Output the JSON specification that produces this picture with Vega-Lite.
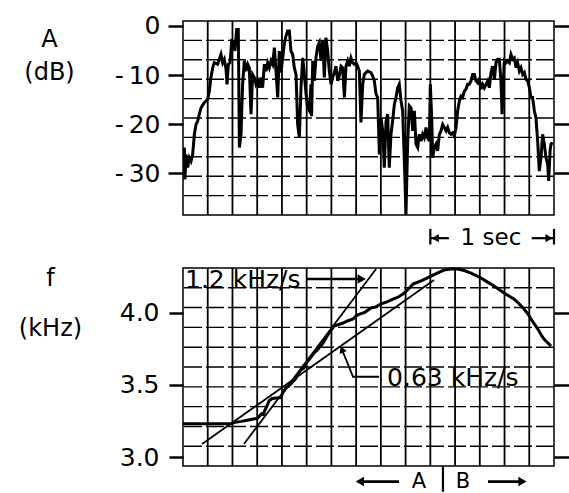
{
"$schema": "https://vega.github.io/schema/vega-lite/v6.json",
"background": "white",
"padding": {"left": 17, "top": 13, "right": 0, "bottom": 0},
"bounds": "flush",
"spacing": 53,
"config": {
  "view": {"stroke": "black", "strokeWidth": 1.5},
  "text": {"font": "DejaVu Sans", "color": "black"},
  "axis": {"labelFont": "DejaVu Sans", "titleFont": "DejaVu Sans", "labelColor": "black", "tickColor": "black", "titleColor": "black", "titleFontWeight": "normal", "domain": false, "grid": false}
},
"datasets": {
  "vgrid": [{"t":0.2},{"t":0.4},{"t":0.6},{"t":0.8},{"t":1.0},{"t":1.2},{"t":1.4},{"t":1.6},{"t":1.8},{"t":2.0},{"t":2.2},{"t":2.4},{"t":2.6},{"t":2.8}],
  "hgridA": [{"dB":-2.94},{"dB":-6.90},{"dB":-10.86},{"dB":-14.82},{"dB":-18.78},{"dB":-22.73},{"dB":-26.69},{"dB":-30.65},{"dB":-34.61}],
  "hgridF": [{"f":4.172},{"f":4.035},{"f":3.898},{"f":3.760},{"f":3.623},{"f":3.486},{"f":3.349},{"f":3.212},{"f":3.075}],
  "amp": [
{"t":0.011,"dB":-24.8},{"t":0.016,"dB":-31.3},{"t":0.024,"dB":-26.2},{"t":0.038,"dB":-28.9},{"t":0.051,"dB":-26.9},{"t":0.065,"dB":-27.6},{"t":0.078,"dB":-26.2},{"t":0.092,"dB":-22.1},{"t":0.105,"dB":-20.1},{"t":0.119,"dB":-19.4},{"t":0.132,"dB":-18.0},{"t":0.146,"dB":-16.7},{"t":0.173,"dB":-15.6},{"t":0.199,"dB":-15.0},{"t":0.213,"dB":-13.3},{"t":0.226,"dB":-10.5},{"t":0.240,"dB":-8.5},{"t":0.253,"dB":-7.5},{"t":0.280,"dB":-7.8},{"t":0.294,"dB":-6.8},{"t":0.307,"dB":-5.8},{"t":0.321,"dB":-7.5},{"t":0.334,"dB":-6.8},{"t":0.348,"dB":-8.8},{"t":0.356,"dB":-11.9},{"t":0.367,"dB":-7.8},{"t":0.380,"dB":-7.5},{"t":0.394,"dB":-3.1},{"t":0.410,"dB":-3.4},{"t":0.420,"dB":-5.1},{"t":0.434,"dB":-0.7},{"t":0.447,"dB":-0.7},{"t":0.456,"dB":-24.8},{"t":0.469,"dB":-22.1},{"t":0.482,"dB":-11.9},{"t":0.496,"dB":-7.1},{"t":0.509,"dB":-9.2},{"t":0.523,"dB":-7.8},{"t":0.536,"dB":-8.5},{"t":0.550,"dB":-18.0},{"t":0.563,"dB":-9.9},{"t":0.577,"dB":-10.5},{"t":0.590,"dB":-11.9},{"t":0.604,"dB":-11.2},{"t":0.617,"dB":-12.6},{"t":0.631,"dB":-10.5},{"t":0.644,"dB":-12.6},{"t":0.658,"dB":-7.8},{"t":0.671,"dB":-9.2},{"t":0.685,"dB":-7.5},{"t":0.698,"dB":-8.5},{"t":0.712,"dB":-7.1},{"t":0.725,"dB":-7.8},{"t":0.739,"dB":-4.4},{"t":0.752,"dB":-9.2},{"t":0.766,"dB":-14.6},{"t":0.779,"dB":-5.1},{"t":0.792,"dB":-9.5},{"t":0.806,"dB":-6.5},{"t":0.819,"dB":-3.7},{"t":0.833,"dB":-2.0},{"t":0.846,"dB":-1.0},{"t":0.860,"dB":-1.0},{"t":0.873,"dB":-5.1},{"t":0.887,"dB":-5.8},{"t":0.900,"dB":-8.5},{"t":0.914,"dB":-9.9},{"t":0.927,"dB":-20.1},{"t":0.941,"dB":-22.8},{"t":0.954,"dB":-12.6},{"t":0.968,"dB":-6.5},{"t":0.981,"dB":-9.9},{"t":0.995,"dB":-13.9},{"t":1.008,"dB":-16.7},{"t":1.022,"dB":-17.3},{"t":1.035,"dB":-11.9},{"t":1.040,"dB":-18.4},{"t":1.049,"dB":-7.1},{"t":1.062,"dB":-11.2},{"t":1.075,"dB":-6.5},{"t":1.089,"dB":-4.1},{"t":1.102,"dB":-3.4},{"t":1.116,"dB":-7.1},{"t":1.129,"dB":-3.1},{"t":1.143,"dB":-10.5},{"t":1.156,"dB":-2.4},{"t":1.170,"dB":-5.1},{"t":1.183,"dB":-9.2},{"t":1.197,"dB":-11.9},{"t":1.210,"dB":-10.5},{"t":1.224,"dB":-9.5},{"t":1.237,"dB":-8.2},{"t":1.251,"dB":-11.2},{"t":1.264,"dB":-10.2},{"t":1.278,"dB":-8.2},{"t":1.291,"dB":-8.5},{"t":1.305,"dB":-14.6},{"t":1.318,"dB":-8.2},{"t":1.332,"dB":-7.1},{"t":1.345,"dB":-8.2},{"t":1.358,"dB":-6.5},{"t":1.372,"dB":-7.5},{"t":1.385,"dB":-7.8},{"t":1.399,"dB":-7.5},{"t":1.412,"dB":-8.2},{"t":1.426,"dB":-9.2},{"t":1.439,"dB":-19.7},{"t":1.453,"dB":-11.9},{"t":1.466,"dB":-9.9},{"t":1.480,"dB":-9.5},{"t":1.493,"dB":-9.2},{"t":1.520,"dB":-9.5},{"t":1.534,"dB":-10.2},{"t":1.547,"dB":-11.2},{"t":1.561,"dB":-13.9},{"t":1.574,"dB":-14.6},{"t":1.588,"dB":-26.2},{"t":1.601,"dB":-18.7},{"t":1.615,"dB":-21.4},{"t":1.628,"dB":-28.9},{"t":1.642,"dB":-19.4},{"t":1.655,"dB":-18.0},{"t":1.668,"dB":-28.9},{"t":1.682,"dB":-22.1},{"t":1.695,"dB":-19.4},{"t":1.709,"dB":-16.0},{"t":1.722,"dB":-14.6},{"t":1.736,"dB":-12.6},{"t":1.749,"dB":-11.9},{"t":1.763,"dB":-15.3},{"t":1.776,"dB":-17.3},{"t":1.790,"dB":-27.6},{"t":1.803,"dB":-38.4},{"t":1.817,"dB":-23.5},{"t":1.830,"dB":-16.3},{"t":1.844,"dB":-16.7},{"t":1.857,"dB":-21.4},{"t":1.871,"dB":-17.3},{"t":1.884,"dB":-24.1},{"t":1.898,"dB":-24.8},{"t":1.911,"dB":-22.1},{"t":1.925,"dB":-23.5},{"t":1.938,"dB":-22.1},{"t":1.951,"dB":-22.8},{"t":1.965,"dB":-20.7},{"t":1.978,"dB":-22.8},{"t":1.992,"dB":-23.5},{"t":2.000,"dB":-11.9},{"t":2.011,"dB":-18.7},{"t":2.019,"dB":-26.9},{"t":2.032,"dB":-24.8},{"t":2.046,"dB":-24.1},{"t":2.059,"dB":-25.5},{"t":2.073,"dB":-22.1},{"t":2.086,"dB":-21.4},{"t":2.100,"dB":-20.1},{"t":2.113,"dB":-20.7},{"t":2.127,"dB":-21.4},{"t":2.140,"dB":-20.7},{"t":2.154,"dB":-21.8},{"t":2.167,"dB":-22.1},{"t":2.181,"dB":-21.8},{"t":2.194,"dB":-22.4},{"t":2.208,"dB":-20.7},{"t":2.221,"dB":-17.3},{"t":2.235,"dB":-15.3},{"t":2.248,"dB":-14.3},{"t":2.261,"dB":-14.6},{"t":2.275,"dB":-13.3},{"t":2.288,"dB":-12.9},{"t":2.302,"dB":-11.9},{"t":2.315,"dB":-11.9},{"t":2.329,"dB":-11.2},{"t":2.342,"dB":-9.9},{"t":2.356,"dB":-9.9},{"t":2.369,"dB":-11.2},{"t":2.383,"dB":-11.6},{"t":2.396,"dB":-10.9},{"t":2.410,"dB":-12.9},{"t":2.423,"dB":-11.9},{"t":2.437,"dB":-12.6},{"t":2.450,"dB":-11.9},{"t":2.464,"dB":-11.2},{"t":2.477,"dB":-12.6},{"t":2.491,"dB":-9.5},{"t":2.504,"dB":-8.2},{"t":2.518,"dB":-10.9},{"t":2.531,"dB":-7.5},{"t":2.544,"dB":-6.8},{"t":2.558,"dB":-6.8},{"t":2.571,"dB":-11.2},{"t":2.580,"dB":-18.0},{"t":2.590,"dB":-11.9},{"t":2.598,"dB":-7.1},{"t":2.612,"dB":-7.5},{"t":2.625,"dB":-7.1},{"t":2.639,"dB":-7.5},{"t":2.652,"dB":-5.8},{"t":2.666,"dB":-6.8},{"t":2.679,"dB":-6.5},{"t":2.693,"dB":-8.5},{"t":2.706,"dB":-7.5},{"t":2.720,"dB":-9.2},{"t":2.733,"dB":-8.5},{"t":2.747,"dB":-9.9},{"t":2.760,"dB":-9.5},{"t":2.774,"dB":-10.9},{"t":2.787,"dB":-11.2},{"t":2.801,"dB":-12.6},{"t":2.814,"dB":-14.6},{"t":2.827,"dB":-14.6},{"t":2.841,"dB":-17.3},{"t":2.854,"dB":-18.7},{"t":2.868,"dB":-23.5},{"t":2.881,"dB":-29.6},{"t":2.895,"dB":-26.9},{"t":2.908,"dB":-22.1},{"t":2.922,"dB":-24.1},{"t":2.935,"dB":-26.9},{"t":2.949,"dB":-28.2},{"t":2.957,"dB":-31.6},{"t":2.968,"dB":-25.5},{"t":2.976,"dB":-24.1},{"t":2.989,"dB":-23.8}
  ],
  "freq": [
{"t":0.000,"f":3.231},{"t":0.388,"f":3.231},{"t":0.42,"f":3.240},{"t":0.47,"f":3.247},{"t":0.52,"f":3.255},{"t":0.56,"f":3.262},{"t":0.60,"f":3.268},{"t":0.62,"f":3.285},{"t":0.635,"f":3.300},{"t":0.65,"f":3.296},{"t":0.66,"f":3.32},{"t":0.68,"f":3.355},{"t":0.695,"f":3.388},{"t":0.72,"f":3.405},{"t":0.76,"f":3.409},{"t":0.79,"f":3.412},{"t":0.81,"f":3.45},{"t":0.833,"f":3.478},{"t":0.87,"f":3.505},{"t":0.914,"f":3.547},{"t":0.95,"f":3.600},{"t":0.975,"f":3.615},{"t":0.995,"f":3.651},{"t":1.03,"f":3.685},{"t":1.059,"f":3.720},{"t":1.09,"f":3.745},{"t":1.132,"f":3.789},{"t":1.16,"f":3.830},{"t":1.181,"f":3.859},{"t":1.221,"f":3.907},{"t":1.26,"f":3.918},{"t":1.294,"f":3.928},{"t":1.33,"f":3.942},{"t":1.375,"f":3.956},{"t":1.40,"f":3.978},{"t":1.423,"f":3.988},{"t":1.47,"f":4.002},{"t":1.520,"f":4.032},{"t":1.56,"f":4.040},{"t":1.601,"f":4.060},{"t":1.65,"f":4.075},{"t":1.698,"f":4.094},{"t":1.74,"f":4.108},{"t":1.779,"f":4.129},{"t":1.82,"f":4.160},{"t":1.860,"f":4.198},{"t":1.93,"f":4.222},{"t":2.005,"f":4.253},{"t":2.06,"f":4.275},{"t":2.110,"f":4.295},{"t":2.17,"f":4.302},{"t":2.224,"f":4.302},{"t":2.28,"f":4.290},{"t":2.329,"f":4.274},{"t":2.41,"f":4.240},{"t":2.46,"f":4.213},{"t":2.515,"f":4.184},{"t":2.556,"f":4.160},{"t":2.596,"f":4.136},{"t":2.636,"f":4.115},{"t":2.676,"f":4.094},{"t":2.72,"f":4.060},{"t":2.757,"f":4.025},{"t":2.79,"f":3.990},{"t":2.814,"f":3.956},{"t":2.85,"f":3.910},{"t":2.879,"f":3.873},{"t":2.90,"f":3.840},{"t":2.919,"f":3.817},{"t":2.95,"f":3.790},{"t":2.976,"f":3.769}
  ],
  "tangents": [{"line":"1.2","t":0.493,"f":3.090},{"line":"1.2","t":1.561,"f":4.302},{"line":"0.63","t":0.154,"f":3.090},{"line":"0.63","t":2.030,"f":4.226}],
  "leader": [{"t":1.585,"f":3.556},{"t":1.375,"f":3.556},{"t":1.29,"f":3.735}],
  "notes": [{"label":"1.2 kHz/s","t":0.016,"f":4.226},{"label":"0.63 kHz/s","t":1.65,"f":3.547}],
  "abLabels": [{"label":"A","t":1.908,"f":2.788},{"label":"B","t":2.264,"f":2.788}],
  "abArrows": [{"t1":1.44,"t2":1.747,"f":2.83},{"t1":2.466,"t2":2.73,"f":2.83},{"t1":0.995,"t2":1.44,"f":4.233}],
  "secBars": [{"t":2.0,"y1":-41.4,"y2":-44.6},{"t":3.0,"y1":-41.4,"y2":-44.6}],
  "secArrows": [{"t1":2.0,"t2":2.15,"dB":-43.3},{"t1":2.82,"t2":3.0,"dB":-43.3}]
},
"vconcat": [
  {
    "width": 371, "height": 194,
    "layer": [
      {"data": {"name": "vgrid"}, "mark": {"type": "rule", "color": "black", "strokeWidth": 1.8},
       "encoding": {"x": {"field": "t", "type": "quantitative", "scale": {"domain": [0, 3], "nice": false, "zero": false}, "axis": null}}},
      {"data": {"name": "hgridA"}, "mark": {"type": "rule", "color": "black", "strokeWidth": 1.4, "strokeDash": [18, 4]},
       "encoding": {"y": {"field": "dB", "type": "quantitative", "scale": {"domain": [-38.57, 1.02], "nice": false, "zero": false},
         "axis": {"orient": "right", "values": [0, -10, -20, -30], "labels": false, "tickSize": 16, "tickWidth": 2.5, "title": null}}}},
      {"data": {"name": "amp"}, "mark": {"type": "line", "color": "black", "strokeWidth": 3, "strokeJoin": "miter"},
       "encoding": {
         "x": {"field": "t", "type": "quantitative", "scale": {"domain": [0, 3], "nice": false, "zero": false}, "axis": null},
         "y": {"field": "dB", "type": "quantitative", "scale": {"domain": [-38.57, 1.02], "nice": false, "zero": false},
           "axis": {"orient": "left", "values": [0, -10, -20, -30], "labelExpr": "datum.value == 0 ? '0' : '-\u2009' + abs(datum.value)",
             "labelFontSize": 25, "labelPadding": 8, "tickSize": 15, "tickWidth": 2.5,
             "title": ["A", "(dB)"], "titleAngle": 0, "titleFontSize": 24, "titleAlign": "center", "titleBaseline": "middle",
             "titleX": -134, "titleY": 18, "titleLineHeight": 33}}}},
      {"data": {"name": "secBars"}, "mark": {"type": "rule", "color": "black", "strokeWidth": 2.2},
       "encoding": {
         "x": {"field": "t", "type": "quantitative", "scale": {"domain": [0, 3], "nice": false, "zero": false}, "axis": null},
         "y": {"field": "y1", "type": "quantitative", "scale": {"domain": [-38.57, 1.02], "nice": false, "zero": false}, "axis": null},
         "y2": {"field": "y2"}}},
      {"data": {"name": "secArrows"}, "mark": {"type": "rule", "color": "black", "strokeWidth": 2.2},
       "encoding": {
         "x": {"field": "t1", "type": "quantitative", "scale": {"domain": [0, 3], "nice": false, "zero": false}, "axis": null},
         "x2": {"field": "t2"},
         "y": {"field": "dB", "type": "quantitative", "scale": {"domain": [-38.57, 1.02], "nice": false, "zero": false}, "axis": null}}},
      {"data": {"values": [{"t": 2.04, "dB": -43.3}]}, "mark": {"type": "point", "shape": "triangle-left", "filled": true, "color": "black", "size": 70, "opacity": 1},
       "encoding": {
         "x": {"field": "t", "type": "quantitative", "scale": {"domain": [0, 3], "nice": false, "zero": false}, "axis": null},
         "y": {"field": "dB", "type": "quantitative", "scale": {"domain": [-38.57, 1.02], "nice": false, "zero": false}, "axis": null}}},
      {"data": {"values": [{"t": 2.96, "dB": -43.3}]}, "mark": {"type": "point", "shape": "triangle-right", "filled": true, "color": "black", "size": 70, "opacity": 1},
       "encoding": {
         "x": {"field": "t", "type": "quantitative", "scale": {"domain": [0, 3], "nice": false, "zero": false}, "axis": null},
         "y": {"field": "dB", "type": "quantitative", "scale": {"domain": [-38.57, 1.02], "nice": false, "zero": false}, "axis": null}}},
      {"data": {"values": [{"label": "1 sec", "t": 2.49, "dB": -43.3}]}, "mark": {"type": "text", "fontSize": 23, "align": "center", "baseline": "middle"},
       "encoding": {
         "x": {"field": "t", "type": "quantitative", "scale": {"domain": [0, 3], "nice": false, "zero": false}, "axis": null},
         "y": {"field": "dB", "type": "quantitative", "scale": {"domain": [-38.57, 1.02], "nice": false, "zero": false}, "axis": null},
         "text": {"field": "label"}}}
    ],
    "resolve": {"axis": {"y": "independent"}}
  },
  {
    "width": 371, "height": 198,
    "layer": [
      {"data": {"name": "vgrid"}, "mark": {"type": "rule", "color": "black", "strokeWidth": 1.8},
       "encoding": {"x": {"field": "t", "type": "quantitative", "scale": {"domain": [0, 3], "nice": false, "zero": false}, "axis": null}}},
      {"data": {"name": "hgridF"}, "mark": {"type": "rule", "color": "black", "strokeWidth": 1.4, "strokeDash": [18, 4]},
       "encoding": {"y": {"field": "f", "type": "quantitative", "scale": {"domain": [2.938, 4.309], "nice": false, "zero": false},
         "axis": {"orient": "right", "values": [4.0, 3.5, 3.0], "labels": false, "tickSize": 16, "tickWidth": 2.5, "title": null}}}},
      {"data": {"name": "tangents"}, "mark": {"type": "line", "color": "black", "strokeWidth": 1.8},
       "encoding": {
         "x": {"field": "t", "type": "quantitative", "scale": {"domain": [0, 3], "nice": false, "zero": false}, "axis": null},
         "y": {"field": "f", "type": "quantitative", "scale": {"domain": [2.938, 4.309], "nice": false, "zero": false}, "axis": null},
         "detail": {"field": "line"}}},
      {"data": {"name": "freq"}, "mark": {"type": "line", "color": "black", "strokeWidth": 3},
       "encoding": {
         "x": {"field": "t", "type": "quantitative", "scale": {"domain": [0, 3], "nice": false, "zero": false}, "axis": null},
         "y": {"field": "f", "type": "quantitative", "scale": {"domain": [2.938, 4.309], "nice": false, "zero": false},
           "axis": {"orient": "left", "values": [4.0, 3.5, 3.0], "format": ".1f",
             "labelFontSize": 25, "labelPadding": 10, "tickSize": 14, "tickWidth": 2.5,
             "title": ["f", "(kHz)"], "titleAngle": 0, "titleFontSize": 24, "titleAlign": "center", "titleBaseline": "middle",
             "titleX": -133, "titleY": 10, "titleLineHeight": 50}}}},
      {"data": {"name": "leader"}, "mark": {"type": "line", "color": "black", "strokeWidth": 1.8},
       "encoding": {
         "x": {"field": "t", "type": "quantitative", "scale": {"domain": [0, 3], "nice": false, "zero": false}, "axis": null},
         "y": {"field": "f", "type": "quantitative", "scale": {"domain": [2.938, 4.309], "nice": false, "zero": false}, "axis": null}}},
      {"data": {"values": [{"t": 1.285, "f": 3.745}]}, "mark": {"type": "point", "shape": "triangle-up", "angle": -22, "filled": true, "color": "black", "size": 60, "opacity": 1},
       "encoding": {
         "x": {"field": "t", "type": "quantitative", "scale": {"domain": [0, 3], "nice": false, "zero": false}, "axis": null},
         "y": {"field": "f", "type": "quantitative", "scale": {"domain": [2.938, 4.309], "nice": false, "zero": false}, "axis": null}}},
      {"data": {"name": "abArrows"}, "mark": {"type": "rule", "color": "black", "strokeWidth": 2.6},
       "encoding": {
         "x": {"field": "t1", "type": "quantitative", "scale": {"domain": [0, 3], "nice": false, "zero": false}, "axis": null},
         "x2": {"field": "t2"},
         "y": {"field": "f", "type": "quantitative", "scale": {"domain": [2.938, 4.309], "nice": false, "zero": false}, "axis": null}}},
      {"data": {"values": [{"t": 1.43, "f": 2.83}]}, "mark": {"type": "point", "shape": "triangle-left", "filled": true, "color": "black", "size": 90, "opacity": 1},
       "encoding": {
         "x": {"field": "t", "type": "quantitative", "scale": {"domain": [0, 3], "nice": false, "zero": false}, "axis": null},
         "y": {"field": "f", "type": "quantitative", "scale": {"domain": [2.938, 4.309], "nice": false, "zero": false}, "axis": null}}},
      {"data": {"values": [{"t": 2.745, "f": 2.83}, {"t": 1.445, "f": 4.233}]}, "mark": {"type": "point", "shape": "triangle-right", "filled": true, "color": "black", "size": 90, "opacity": 1},
       "encoding": {
         "x": {"field": "t", "type": "quantitative", "scale": {"domain": [0, 3], "nice": false, "zero": false}, "axis": null},
         "y": {"field": "f", "type": "quantitative", "scale": {"domain": [2.938, 4.309], "nice": false, "zero": false}, "axis": null}}},
      {"data": {"values": [{"t": 2.102, "f1": 2.94, "f2": 2.76}]}, "mark": {"type": "rule", "color": "black", "strokeWidth": 2.2},
       "encoding": {
         "x": {"field": "t", "type": "quantitative", "scale": {"domain": [0, 3], "nice": false, "zero": false}, "axis": null},
         "y": {"field": "f1", "type": "quantitative", "scale": {"domain": [2.938, 4.309], "nice": false, "zero": false}, "axis": null},
         "y2": {"field": "f2"}}},
      {"data": {"name": "abLabels"}, "mark": {"type": "text", "fontSize": 21, "align": "center", "baseline": "alphabetic"},
       "encoding": {
         "x": {"field": "t", "type": "quantitative", "scale": {"domain": [0, 3], "nice": false, "zero": false}, "axis": null},
         "y": {"field": "f", "type": "quantitative", "scale": {"domain": [2.938, 4.309], "nice": false, "zero": false}, "axis": null},
         "text": {"field": "label"}}},
      {"data": {"name": "notes"}, "mark": {"type": "text", "fontSize": 25, "align": "left", "baseline": "middle"},
       "encoding": {
         "x": {"field": "t", "type": "quantitative", "scale": {"domain": [0, 3], "nice": false, "zero": false}, "axis": null},
         "y": {"field": "f", "type": "quantitative", "scale": {"domain": [2.938, 4.309], "nice": false, "zero": false}, "axis": null},
         "text": {"field": "label"}}}
    ],
    "resolve": {"axis": {"y": "independent"}}
  }
]
}
